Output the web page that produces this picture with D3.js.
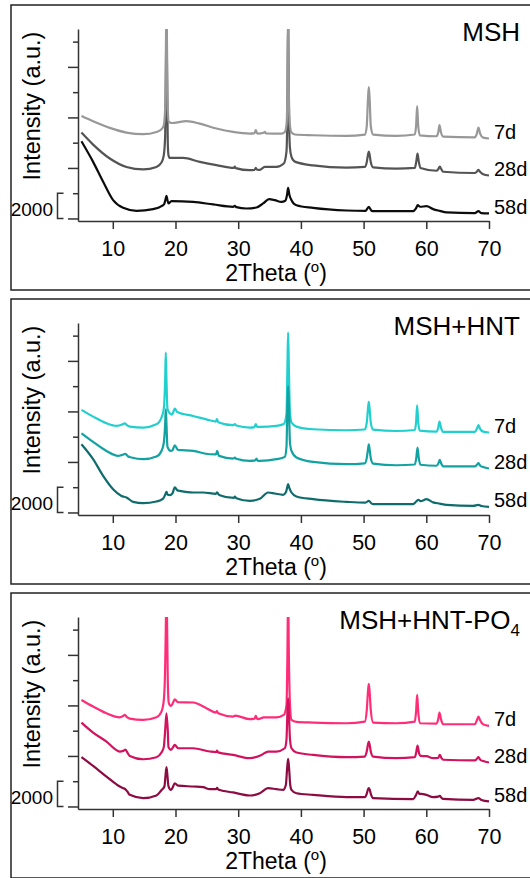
<!DOCTYPE html>
<html>
<head>
<meta charset="utf-8">
<script src="https://cdn.jsdelivr.net/npm/d3@7"></script>
<style>
  html, body { margin: 0; padding: 0; background: #fff; }
  svg { display: block; font-family: "Liberation Sans", Arial, Helvetica, sans-serif; }
</style>
</head>
<body>
<svg id="chart" width="530" height="878"></svg>
<script>
// XRD patterns, [2θ (degrees), intensity (counts, with stacking offset)]

// MSH
const msh7d = [[5.0,8120],[6.86,7700],[9.52,7170],[12.18,6800],[14.84,6670],[16.96,6850],[17.76,7060],[18.13,7380],[18.35,8700],[18.45,12500],[18.56,17000],[18.67,12500],[18.77,8600],[18.93,7640],[19.36,7560],[21.75,7700],[23.88,7510],[26.53,7120],[29.19,6850],[31.85,6720],[32.6,6760],[32.81,6990],[33.0,6760],[33.18,6720],[34.05,6790],[34.24,6850],[34.45,6740],[36.9,6720],[37.43,6850],[37.7,7400],[37.85,10000],[37.96,17000],[38.08,10000],[38.25,7400],[38.5,6800],[39.03,6650],[41.95,6590],[47.27,6540],[50.19,6640],[50.5,7300],[50.7,9500],[50.83,10400],[50.96,9500],[51.15,7300],[51.52,6640],[55.24,6540],[58.17,6650],[58.38,7400],[58.54,8900],[58.7,7400],[58.96,6580],[61.62,6510],[61.9,6800],[62.1,7400],[62.35,6800],[62.68,6480],[67.74,6420],[68.05,6700],[68.32,7200],[68.6,6700],[69.07,6400],[70,6330]];
const msh28d = [[5.0,6800],[6.86,5850],[9.52,4750],[12.18,4080],[14.84,3880],[16.96,4080],[17.76,4430],[18.13,5000],[18.35,6500],[18.45,10000],[18.56,16000],[18.67,10000],[18.77,6000],[18.88,5010],[19.09,4790],[21.22,4790],[23.88,4480],[26.53,4220],[29.3,4000],[29.46,4100],[29.6,3990],[31.85,3820],[32.6,3850],[32.81,4000],[33.0,3860],[33.44,3850],[34.24,4080],[36.1,4080],[37.27,4350],[37.7,5300],[37.85,9000],[37.96,16000],[38.08,9000],[38.25,5600],[38.5,4870],[39.03,4500],[41.95,4200],[47.27,4020],[50.19,4080],[50.5,4450],[50.7,5050],[50.83,5300],[50.96,5050],[51.15,4450],[51.52,4050],[55.24,3950],[58.17,4000],[58.4,4500],[58.6,5140],[58.8,4500],[59.07,4000],[61.62,3780],[61.9,3900],[62.15,4110],[62.4,3900],[62.68,3700],[67.74,3600],[68.05,3700],[68.32,3840],[68.6,3680],[69.07,3500],[70,3400]];
const msh58d = [[5.0,6110],[6.86,4480],[8.46,2900],[10.05,1450],[11.65,840],[13.78,600],[16.43,740],[17.76,970],[18.2,1150],[18.4,1500],[18.56,1790],[18.72,1450],[18.88,1190],[19.36,1370],[22.81,1310],[26.0,1110],[29.19,920],[29.46,1000],[29.7,900],[31.32,790],[32.91,870],[33.98,1190],[34.93,1530],[35.84,1450],[36.9,1310],[37.5,1400],[37.8,1900],[37.96,2420],[38.15,1900],[38.5,1450],[39.29,1050],[41.95,840],[47.27,630],[50.3,600],[50.83,920],[51.3,600],[51.52,580],[57.9,580],[58.35,800],[58.64,1050],[59.0,930],[60.03,970],[61.09,740],[62.15,600],[63.22,480],[67.74,420],[68.32,580],[68.8,420],[70,400]];

// MSH + HNT
const hnt7d = [[5.0,8120],[6.86,7590],[8.99,7060],[10.59,6850],[11.5,6960],[11.91,7060],[12.3,6900],[12.71,6800],[14.84,6720],[16.96,6980],[17.76,7510],[18.13,8200],[18.35,10500],[18.45,12660],[18.56,10500],[18.72,8200],[19.09,7850],[19.45,7750],[19.89,8230],[20.26,7950],[22.81,7640],[25.47,7300],[26.45,7200],[26.6,7400],[26.8,7150],[29.19,6910],[29.46,6990],[29.7,6880],[31.85,6720],[32.6,6760],[32.81,6990],[33.0,6780],[33.44,6780],[36.1,6850],[37.27,7000],[37.7,7800],[37.85,11500],[37.96,14240],[38.08,11500],[38.25,8000],[38.5,7120],[39.29,6800],[41.95,6590],[47.27,6510],[50.19,6570],[50.5,7100],[50.7,8200],[50.83,8750],[50.96,8200],[51.15,7100],[51.52,6560],[55.24,6450],[58.17,6530],[58.38,7200],[58.54,8490],[58.7,7200],[58.96,6480],[61.62,6400],[61.9,6700],[62.1,7200],[62.35,6700],[62.68,6380],[67.74,6380],[68.05,6600],[68.32,6910],[68.6,6600],[69.07,6400],[70,6330]];
const hnt28d = [[5.0,6270],[6.86,5590],[8.99,4870],[10.85,4480],[11.5,4560],[12.02,4640],[12.4,4450],[12.98,4350],[14.84,4220],[16.96,4430],[17.76,4870],[18.13,5500],[18.35,7000],[18.45,8170],[18.56,7000],[18.72,5200],[19.25,4870],[19.55,4950],[19.89,5320],[20.3,5000],[20.42,4950],[22.81,4870],[25.47,4610],[26.45,4600],[26.64,4870],[26.85,4580],[26.96,4480],[29.19,4270],[29.46,4350],[29.7,4250],[31.85,4080],[32.7,4120],[32.91,4270],[33.1,4100],[33.44,4080],[36.1,4220],[37.43,4400],[37.7,5200],[37.85,8500],[37.96,10000],[38.08,8500],[38.25,5600],[38.5,4870],[39.29,4350],[41.95,4000],[47.27,3820],[50.19,3890],[50.5,4300],[50.7,5000],[50.83,5400],[50.96,5000],[51.15,4300],[51.52,3870],[55.24,3740],[58.17,3800],[58.4,4300],[58.6,5140],[58.8,4300],[59.07,3780],[61.62,3700],[61.9,3850],[62.15,4160],[62.4,3850],[62.68,3650],[67.74,3650],[68.05,3760],[68.32,3900],[68.6,3700],[69.07,3600],[70,3480]];
const hnt58d = [[5.0,5400],[6.86,4220],[8.46,2900],[10.05,1840],[11.38,1310],[12.18,1190],[13.24,840],[14.84,740],[16.96,870],[18.03,1100],[18.35,1400],[18.56,1630],[18.77,1400],[19.09,1370],[19.5,1500],[19.89,1980],[20.3,1750],[20.69,1710],[22.81,1580],[24.41,1580],[26.45,1480],[26.64,1600],[26.85,1450],[27.07,1370],[29.3,1150],[29.46,1250],[29.7,1130],[31.85,920],[33.44,1080],[34.77,1580],[35.84,1500],[37.17,1400],[37.6,1600],[37.8,1950],[37.96,2240],[38.15,1950],[38.5,1580],[39.29,1270],[41.95,1050],[47.27,840],[50.3,780],[50.83,920],[51.3,700],[51.52,660],[57.9,660],[58.35,850],[58.7,1000],[59.1,900],[60.03,1050],[61.09,800],[62.15,700],[63.22,600],[67.47,520],[68.32,600],[68.8,510],[70,440]];

// MSH + HNT-PO4
const po7d = [[5.0,8430],[6.86,7910],[8.99,7380],[11.12,7060],[11.6,7150],[11.91,7250],[12.3,7050],[12.71,6960],[14.84,6850],[16.96,7060],[17.76,7510],[18.13,8400],[18.35,11000],[18.45,14000],[18.56,17000],[18.67,14000],[18.77,10000],[18.93,8200],[19.25,7960],[19.5,8100],[19.89,8490],[20.3,8280],[20.42,8250],[22.81,8230],[24.94,7780],[26.45,7430],[26.6,7550],[26.8,7380],[29.19,7120],[29.5,7200],[31.85,6910],[32.6,6950],[32.81,7170],[33.0,6950],[33.18,6910],[34.08,7060],[36.1,7060],[37.27,7250],[37.7,8000],[37.85,12000],[37.96,17000],[38.08,12000],[38.25,8200],[38.5,6850],[39.29,6700],[41.95,6640],[47.27,6590],[50.19,6720],[50.5,7600],[50.7,9100],[50.83,9700],[50.96,9100],[51.15,7600],[51.52,6640],[55.24,6590],[58.17,6720],[58.38,7600],[58.54,8830],[58.7,7600],[58.96,6590],[61.62,6560],[61.9,6900],[62.1,7440],[62.35,6900],[62.68,6510],[67.74,6510],[68.05,6800],[68.32,7120],[68.6,6800],[69.07,6500],[70,6380]];
const po28d = [[5.0,6640],[6.86,5850],[8.99,5140],[11.12,4350],[11.65,4400],[12.02,4500],[12.4,4200],[12.71,4000],[14.84,3740],[16.96,3900],[17.76,4270],[18.13,4700],[18.35,6000],[18.56,7380],[18.77,6000],[18.88,4700],[19.25,4480],[19.5,4600],[19.89,4870],[20.3,4650],[20.42,4610],[22.81,4610],[25.47,4350],[26.5,4300],[26.64,4420],[26.8,4280],[29.19,4080],[31.85,3820],[33.71,4080],[34.77,4350],[36.1,4350],[37.43,4610],[37.7,5300],[37.85,7500],[37.96,8550],[38.08,7500],[38.25,5400],[38.5,4610],[39.29,4270],[41.95,4080],[47.27,3900],[50.19,3950],[50.5,4350],[50.7,4900],[50.83,5140],[50.96,4900],[51.15,4350],[51.52,3950],[55.24,3820],[58.17,3900],[58.4,4300],[58.6,4820],[58.85,4200],[59.07,4000],[60.03,3980],[61.09,3820],[61.9,3850],[62.15,4080],[62.4,3850],[62.68,3700],[67.74,3650],[68.05,3760],[68.32,3900],[68.6,3700],[69.07,3600],[70,3480]];
const po58d = [[5.0,3900],[6.86,3210],[8.99,2370],[11.12,1580],[11.65,1450],[11.91,1400],[12.3,1200],[12.71,920],[14.84,660],[16.96,870],[17.76,1290],[18.24,1600],[18.4,2400],[18.56,3110],[18.72,2400],[18.88,1600],[19.25,1310],[19.5,1450],[19.89,1840],[20.42,1650],[22.81,1580],[24.41,1530],[25.47,1370],[26.5,1380],[26.64,1480],[26.8,1350],[29.19,1110],[31.85,870],[33.44,1050],[34.77,1450],[36.1,1370],[37.17,1310],[37.6,1700],[37.8,3000],[37.96,3770],[38.12,3000],[38.3,1700],[38.5,1310],[39.29,1050],[41.95,920],[47.27,740],[50.19,740],[50.5,1000],[50.7,1350],[50.83,1450],[50.96,1350],[51.15,1000],[51.52,660],[57.9,580],[58.35,900],[58.64,1190],[58.9,1000],[59.23,1000],[60.03,920],[61.09,740],[61.9,780],[62.15,840],[62.4,700],[62.68,600],[67.47,520],[68.32,660],[68.8,520],[70,400]];

const ages = ["7d", "28d", "58d"];
const xTicks = [10, 20, 30, 40, 50, 60, 70];
const yTicks = [0, 2000, 4000, 6000, 8000, 10000, 12000, 14000];
const scaleBar = 2000;
const titleMain = ["MSH", "MSH+HNT", "MSH+HNT-PO"];
const titleSub = ["", "", "4"];
const panelSeries = [[msh7d, msh28d, msh58d], [hnt7d, hnt28d, hnt58d], [po7d, po28d, po58d]];

// styling
const palettes = [
  ["#989898", "#545454", "#0c0c0c"],
  ["#22CFCF", "#13A2A2", "#0F6C6C"],
  ["#FF2C78", "#D3125D", "#8C0B41"]
];
const drawOrder = [[2, 1, 0], [0, 1, 2], [0, 1, 2]];
const panelStep = 294;
const axisColor = "#333";

const svg = d3.select("#chart");
const x = d3.scaleLinear().domain([4.45, 70]).range([78, 489]);
const y = d3.scaleLinear().domain([-200, 15000]).range([221, 29]);
const line = d3.line().x(d => x(d[0])).y(d => y(d[1])).curve(d3.curveMonotoneX);

titleMain.forEach((title, i) => {
  const g = svg.append("g").attr("transform", `translate(0,${i * panelStep})`);

  // panel frame
  g.append("rect")
    .attr("x", 11).attr("y", 5).attr("width", 530).attr("height", 285)
    .attr("fill", "none").attr("stroke", "#222").attr("stroke-width", 1.5);

  g.append("clipPath").attr("id", "plot-clip-" + i)
    .append("rect").attr("x", 78).attr("y", 29).attr("width", 414).attr("height", 192);

  // traces
  const traces = g.append("g").attr("clip-path", `url(#plot-clip-${i})`);
  drawOrder[i].forEach(k => {
    traces.append("path")
      .datum(panelSeries[i][k])
      .attr("d", line)
      .attr("fill", "none")
      .attr("stroke", palettes[i][k])
      .attr("stroke-width", 2.2)
      .attr("stroke-linejoin", "round");
  });

  // age labels at the right end of each trace
  panelSeries[i].forEach((s, k) => {
    g.append("text")
      .attr("x", 494)
      .attr("y", y(s[s.length - 1][1]) + 0.5)
      .attr("font-size", 20)
      .attr("fill", "#000")
      .text(ages[k]);
  });

  // y axis (no labels; long ticks every 4000)
  const yAxis = g.append("g").attr("transform", "translate(78,0)")
    .call(d3.axisLeft(y).tickValues(yTicks).tickSize(10).tickSizeOuter(0).tickFormat(""));
  yAxis.selectAll(".tick line").attr("x2", d => (d % 4000 === 0 ? -10 : -5));
  yAxis.selectAll("text").remove();
  yAxis.selectAll(".domain, .tick line").attr("stroke", axisColor).attr("stroke-width", 1.5);

  // x axis
  const xAxis = g.append("g").attr("transform", "translate(0,221)")
    .call(d3.axisBottom(x).tickValues(xTicks).tickSize(8).tickSizeOuter(0));
  xAxis.selectAll(".domain, .tick line").attr("stroke", axisColor).attr("stroke-width", 1.5);
  xAxis.selectAll(".tick text")
    .attr("y", 34.5).attr("dy", 0)
    .attr("font-size", 21.5).attr("fill", "#000")
    .attr("font-family", "Liberation Sans, Arial, sans-serif");

  // intensity scale bar
  const xb = 57.5;
  g.append("path")
    .attr("d", `M${xb + 6},${y(scaleBar)}H${xb}V${y(0)}H${xb + 6}`)
    .attr("fill", "none").attr("stroke", axisColor).attr("stroke-width", 1.5);
  g.append("text")
    .attr("x", 53).attr("y", 216)
    .attr("text-anchor", "end").attr("font-size", 19).attr("fill", "#000")
    .text(scaleBar);

  // axis titles
  g.append("text")
    .attr("transform", "translate(40,106) rotate(-90)")
    .attr("text-anchor", "middle").attr("font-size", 23.5).attr("fill", "#000")
    .text("Intensity (a.u.)");
  const xt = g.append("text")
    .attr("x", 276).attr("y", 281)
    .attr("text-anchor", "middle").attr("font-size", 23).attr("fill", "#000");
  xt.append("tspan").text("2Theta (");
  xt.append("tspan").attr("font-size", 15).attr("dy", -9).text("o");
  xt.append("tspan").attr("dy", 9).text(")");

  // panel title
  const tt = g.append("text")
    .attr("x", 520).attr("y", 41)
    .attr("text-anchor", "end").attr("font-size", 26).attr("fill", "#000");
  tt.append("tspan").text(title);
  if (titleSub[i]) {
    tt.append("tspan").attr("font-size", 17).attr("dy", 7).text(titleSub[i]);
  }
});
</script>
</body>
</html>
